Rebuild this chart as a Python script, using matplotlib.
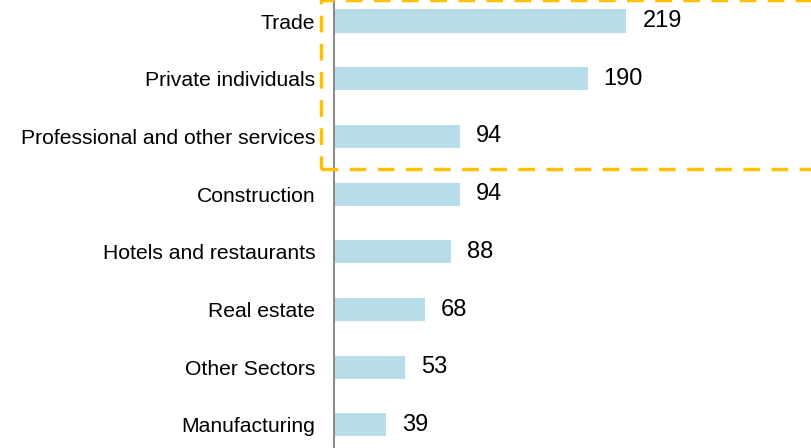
import matplotlib.pyplot as plt
from matplotlib.patches import Rectangle

plt.rcParams['font.family'] = ['Liberation Sans', 'DejaVu Sans']

# data, top to bottom
sectors = ["Trade", "Private individuals", "Professional and other services",
           "Construction", "Hotels and restaurants", "Real estate",
           "Other Sectors", "Manufacturing"]
counts = [219, 190, 94, 94, 88, 68, 53, 39]

bar_color = "#B7DEE8"
box_color = "#FFC000"

fig = plt.figure(figsize=(8.12, 4.48), dpi=100)
ax = fig.add_axes([334 / 812, 0, 1 - 334 / 812, 1])

ypos = list(range(len(sectors)))
ax.barh(ypos, counts, height=0.4, color=bar_color)

for y, v in zip(ypos, counts):
    ax.annotate(str(v), (v, y), xytext=(11.5, 0), textcoords="offset points",
                va="center", ha="left", fontsize=17, color="black")

ax.set_xlim(0, 358)
ax.set_ylim(7.4, -0.364)
ax.set_yticks(ypos)
ax.set_yticklabels(sectors, fontsize=15.2)
ax.tick_params(axis="y", length=0, pad=13.5)
ax.set_xticks([])

for s in ["top", "right", "bottom"]:
    ax.spines[s].set_visible(False)
ax.spines["left"].set_color("#8C8C8C")
ax.spines["left"].set_linewidth(1.5)

# dashed highlight box around the top three sectors
x0 = 321 / 812
y0 = 1 - 169 / 448
box = Rectangle((x0, y0), 1.1 - x0, 1.0 - y0, transform=fig.transFigure,
                fill=False, edgecolor=box_color, linewidth=2.5,
                linestyle=(0, (4.8, 3.3)), joinstyle="round", clip_on=False)
fig.patches.append(box)

fig.savefig("out.png", dpi=100)
